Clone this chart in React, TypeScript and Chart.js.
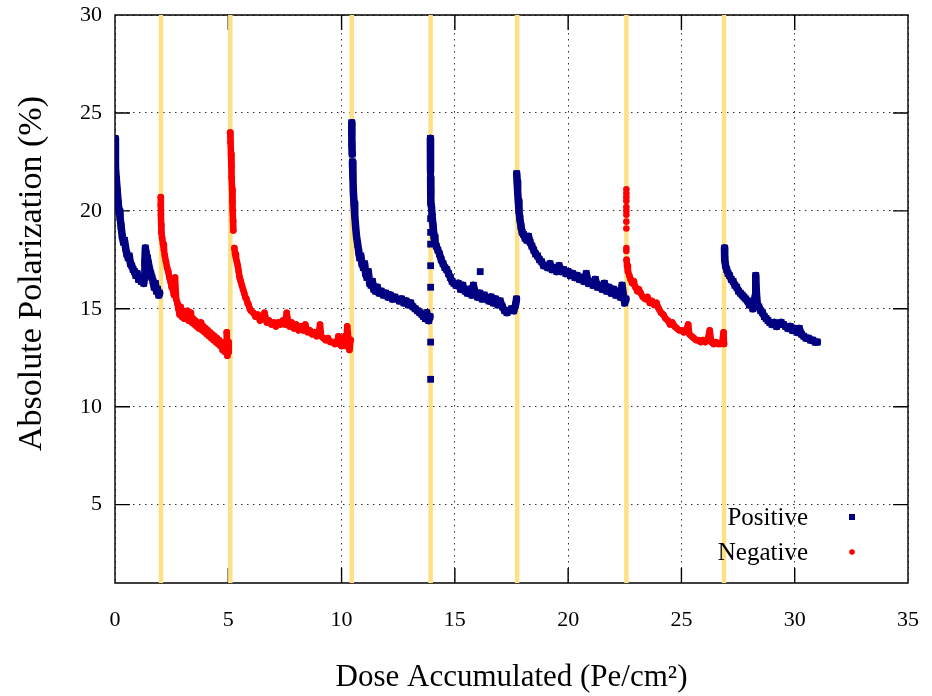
import React, { useEffect, useRef } from 'react';
import { Chart, registerables } from 'chart.js';

Chart.register(...registerables);

type Pt = [number, number];

// ---- axes / annotations ----
const xTickValues = [0, 5, 10, 15, 20, 25, 30, 35];
const yTickValues = [5, 10, 15, 20, 25, 30];
const polaritySwitches = [2.03, 5.09, 10.45, 13.93, 17.75, 22.57, 26.88];
const legendLabels = ['Positive', 'Negative'];

// ---- Positive polarity runs ----
const positiveRun1: Pt[] = [
  [0.0, 23.7], [0.01, 23.2], [0.02, 22.6], [0.03, 22.2], [0.06, 21.6], [0.1, 21.0], [0.14, 20.4],
  [0.18, 20.0], [0.22, 19.7], [0.27, 19.2], [0.32, 18.7], [0.37, 18.4], [0.42, 18.5], [0.47, 18.1],
  [0.52, 17.8], [0.58, 17.6], [0.63, 17.7], [0.68, 17.3], [0.74, 17.2], [0.8, 17.0], [0.86, 16.9],
  [0.92, 16.7], [0.98, 16.8], [1.04, 16.5], [1.1, 16.6], [1.16, 16.4], [1.22, 16.5], [1.27, 16.3],
  [1.3, 16.6], [1.32, 17.4], [1.34, 18.1], [1.38, 17.8], [1.43, 17.6], [1.48, 17.3], [1.53, 17.0],
  [1.58, 16.8], [1.63, 16.6], [1.68, 16.4], [1.73, 16.1], [1.78, 16.3], [1.83, 15.9], [1.88, 16.0],
  [1.93, 15.7], [1.97, 15.8],
];
const positiveRun2a: Pt[] = [[10.45, 24.5], [10.45, 24.0], [10.46, 23.4], [10.47, 22.9]];
const positiveRun2: Pt[] = [
  [10.48, 22.5], [10.5, 21.8], [10.52, 21.0], [10.55, 20.4], [10.58, 19.8], [10.62, 19.2],
  [10.66, 18.7], [10.71, 18.3], [10.76, 17.9], [10.8, 17.6], [10.85, 17.7], [10.9, 17.3],
  [10.96, 17.1], [11.02, 17.3], [11.06, 16.8], [11.12, 16.6], [11.18, 16.9], [11.24, 16.3],
  [11.3, 16.2], [11.36, 16.4], [11.42, 16.0], [11.5, 15.9], [11.58, 16.1], [11.66, 15.8],
  [11.75, 15.9], [11.85, 15.7], [11.95, 15.8], [12.05, 15.6], [12.15, 15.7], [12.25, 15.5],
  [12.35, 15.6], [12.45, 15.5], [12.55, 15.4], [12.65, 15.5], [12.75, 15.3], [12.85, 15.4],
  [12.95, 15.2], [13.05, 15.3], [13.15, 15.1], [13.25, 15.0], [13.35, 14.9], [13.45, 14.8],
  [13.55, 14.7], [13.62, 14.6], [13.7, 14.5], [13.76, 14.8], [13.8, 14.6], [13.85, 14.4], [13.9, 14.6],
];
const positiveRun3a: Pt[] = [[13.92, 23.7], [13.92, 23.2], [13.93, 22.6], [13.93, 22.0]];
const positiveRun3: Pt[] = [
  [13.93, 21.7], [13.94, 21.0], [13.94, 20.4], [13.97, 20.2], [14.0, 19.7], [14.04, 19.2],
  [14.08, 18.7], [14.12, 18.4], [14.18, 18.2], [14.25, 18.0], [14.32, 17.8], [14.4, 17.5],
  [14.48, 17.3], [14.56, 17.1], [14.64, 17.0], [14.72, 16.8], [14.8, 16.6], [14.88, 16.4],
  [14.96, 16.3], [15.05, 16.2], [15.15, 16.3], [15.25, 16.0], [15.35, 16.2], [15.45, 15.9],
  [15.55, 15.8], [15.65, 16.0], [15.75, 15.7], [15.82, 16.2], [15.9, 15.8], [16.0, 15.6],
  [16.1, 15.8], [16.2, 15.5], [16.3, 15.7], [16.4, 15.5], [16.5, 15.4], [16.6, 15.6],
  [16.7, 15.3], [16.8, 15.5], [16.9, 15.2], [17.0, 15.4], [17.1, 15.1], [17.2, 14.9],
  [17.3, 14.8], [17.4, 14.9], [17.5, 15.0], [17.6, 14.9], [17.68, 15.2], [17.72, 15.5],
];
const positiveStrays: Pt[] = [
  [13.93, 19.6], [13.93, 18.9], [13.93, 18.3], [13.93, 17.2], [13.93, 16.1], [13.93, 13.3],
  [13.93, 11.4], [16.12, 16.9],
];
const positiveRun4: Pt[] = [
  [17.73, 21.9], [17.75, 21.5], [17.77, 21.0], [17.8, 20.5], [17.83, 20.0], [17.87, 19.6],
  [17.92, 19.2], [17.97, 18.9], [18.03, 18.8], [18.1, 18.6], [18.18, 18.5], [18.25, 18.7],
  [18.32, 18.4], [18.4, 18.2], [18.48, 18.0], [18.56, 17.8], [18.65, 17.7], [18.74, 17.5],
  [18.83, 17.4], [18.92, 17.2], [19.0, 17.2], [19.1, 17.1], [19.2, 17.3], [19.3, 17.0],
  [19.4, 17.1], [19.5, 16.9], [19.6, 17.2], [19.7, 16.9], [19.8, 17.0], [19.9, 16.8],
  [20.0, 16.9], [20.1, 16.7], [20.2, 16.8], [20.3, 16.6], [20.4, 16.7], [20.5, 16.5],
  [20.6, 16.6], [20.7, 16.4], [20.8, 16.8], [20.9, 16.3], [21.0, 16.4], [21.1, 16.2],
  [21.2, 16.5], [21.3, 16.1], [21.4, 16.2], [21.5, 16.0], [21.6, 16.3], [21.7, 15.9],
  [21.8, 16.1], [21.9, 15.8], [22.0, 16.0], [22.1, 15.7], [22.2, 15.9], [22.3, 15.6],
  [22.38, 16.2], [22.45, 15.6], [22.5, 15.3], [22.55, 15.5],
];
const positiveRun5: Pt[] = [
  [26.9, 18.1], [26.9, 17.8], [26.92, 17.5], [26.95, 17.2], [27.0, 17.0], [27.06, 16.8],
  [27.12, 16.7], [27.2, 16.5], [27.28, 16.4], [27.36, 16.2], [27.44, 16.1], [27.52, 15.9],
  [27.6, 15.8], [27.68, 15.7], [27.76, 15.6], [27.84, 15.5], [27.92, 15.4], [28.0, 15.2],
  [28.08, 15.3], [28.15, 15.0], [28.2, 15.3], [28.25, 15.6], [28.28, 16.7], [28.31, 15.8],
  [28.35, 15.2], [28.42, 15.1], [28.5, 14.9], [28.58, 14.8], [28.66, 14.6], [28.74, 14.5],
  [28.82, 14.4], [28.9, 14.3], [29.0, 14.2], [29.1, 14.3], [29.2, 14.1], [29.3, 14.2],
  [29.4, 14.3], [29.5, 14.2], [29.6, 14.1], [29.7, 14.0], [29.8, 14.1], [29.9, 13.9],
  [30.0, 14.0], [30.1, 13.8], [30.2, 14.0], [30.3, 13.7], [30.4, 13.6], [30.5, 13.5],
  [30.6, 13.5], [30.7, 13.4], [30.8, 13.4], [30.9, 13.3], [31.0, 13.3],
];

// ---- Negative polarity runs ----
const negativeRun1: Pt[] = [
  [2.02, 20.7], [2.02, 20.3], [2.03, 19.8], [2.04, 19.3], [2.05, 18.9], [2.08, 18.6], [2.12, 18.3],
  [2.16, 18.0], [2.2, 17.7], [2.25, 17.4], [2.3, 17.1], [2.35, 16.9], [2.4, 16.6], [2.45, 16.4],
  [2.5, 16.1], [2.55, 16.0], [2.6, 15.7], [2.65, 16.6], [2.7, 15.5], [2.75, 15.3], [2.8, 15.0],
  [2.85, 14.7], [2.9, 15.1], [2.95, 14.6], [3.0, 14.9], [3.05, 14.5], [3.1, 14.8], [3.15, 14.6],
  [3.2, 14.9], [3.25, 14.4], [3.3, 14.6], [3.35, 14.8], [3.4, 14.3], [3.45, 14.5], [3.5, 14.2],
  [3.55, 14.4], [3.6, 14.1], [3.65, 14.3], [3.7, 14.0], [3.75, 14.2], [3.8, 14.3], [3.85, 13.9],
  [3.9, 14.1], [3.95, 13.8], [4.0, 14.0], [4.05, 13.7], [4.1, 13.9], [4.15, 13.6], [4.2, 13.8],
  [4.25, 13.5], [4.3, 13.7], [4.35, 13.4], [4.4, 13.6], [4.45, 13.3], [4.5, 13.5], [4.55, 13.2],
  [4.6, 13.4], [4.65, 13.1], [4.7, 13.3], [4.75, 12.9], [4.8, 13.1], [4.85, 12.8], [4.9, 13.0],
  [4.93, 13.8], [4.96, 12.6], [5.0, 13.3], [5.02, 12.8],
];
const negativeRun2a: Pt[] = [
  [5.08, 24.0], [5.1, 23.5], [5.12, 22.9], [5.14, 22.3], [5.15, 21.7], [5.17, 21.1], [5.18, 20.5],
  [5.2, 20.0], [5.21, 19.5], [5.22, 19.0],
];
const negativeRun2: Pt[] = [
  [5.27, 18.1], [5.3, 17.8], [5.34, 17.6], [5.38, 17.4], [5.42, 17.2], [5.46, 16.9], [5.5, 16.6],
  [5.55, 16.4], [5.6, 16.2], [5.65, 16.0], [5.7, 15.8], [5.75, 15.6], [5.8, 15.5], [5.85, 15.3],
  [5.9, 15.2], [5.95, 15.0], [6.0, 14.9], [6.1, 14.8], [6.2, 14.6], [6.3, 14.7], [6.4, 14.4],
  [6.5, 14.5], [6.6, 14.8], [6.7, 14.3], [6.8, 14.4], [6.9, 14.2], [7.0, 14.3], [7.1, 14.1],
  [7.2, 14.3], [7.3, 14.2], [7.4, 14.4], [7.5, 14.2], [7.58, 14.8], [7.65, 14.3], [7.7, 14.1],
  [7.8, 14.3], [7.9, 14.0], [8.0, 14.2], [8.1, 13.9], [8.2, 14.1], [8.3, 13.9], [8.4, 14.2],
  [8.5, 13.8], [8.6, 13.9], [8.7, 13.7], [8.8, 13.8], [8.9, 13.6], [9.0, 13.8], [9.05, 14.2],
  [9.1, 13.6], [9.2, 13.5], [9.3, 13.4], [9.4, 13.5], [9.5, 13.3], [9.6, 13.3], [9.7, 13.2],
  [9.8, 13.3], [9.86, 13.6], [9.9, 13.2], [10.0, 13.1], [10.1, 13.2], [10.15, 13.6], [10.2, 13.1],
  [10.25, 14.1], [10.3, 13.5], [10.35, 12.9], [10.4, 13.4],
];
const negativeStrays: Pt[] = [
  [22.57, 21.1], [22.57, 20.9], [22.57, 20.7], [22.57, 20.5], [22.57, 20.2], [22.57, 20.0],
  [22.57, 19.8], [22.57, 19.45], [22.57, 19.1], [22.57, 18.1], [22.57, 17.95],
];
const negativeRun3: Pt[] = [
  [22.58, 17.5], [22.6, 17.2], [22.64, 16.9], [22.7, 16.7], [22.76, 16.5], [22.83, 16.3],
  [22.9, 16.4], [22.97, 16.1], [23.05, 15.9], [23.12, 16.0], [23.2, 15.8], [23.3, 15.6],
  [23.4, 15.5], [23.5, 15.6], [23.6, 15.3], [23.7, 15.4], [23.8, 15.2], [23.9, 15.3],
  [24.0, 15.0], [24.1, 14.8], [24.2, 14.7], [24.3, 14.5], [24.4, 14.4], [24.5, 14.2],
  [24.6, 14.3], [24.7, 14.1], [24.8, 14.0], [24.9, 13.9], [25.0, 13.9], [25.1, 13.8],
  [25.2, 13.9], [25.3, 14.2], [25.35, 13.7], [25.45, 13.6], [25.55, 13.5], [25.65, 13.4],
  [25.75, 13.4], [25.85, 13.3], [25.95, 13.4], [26.05, 13.3], [26.15, 13.4], [26.25, 13.9],
  [26.32, 13.3], [26.42, 13.2], [26.52, 13.3], [26.62, 13.2], [26.72, 13.2], [26.8, 13.3],
  [26.86, 13.8], [26.88, 13.2],
];

// ---- styles ----
const NAVY = '#000080';
const RED = '#ff0000';
const YELLOW = '#ffe185';
const FONT = '"Liberation Serif", "Times New Roman", serif';

const toXY = (pts: Pt[]) => pts.map(([x, y]) => ({ x, y }));

function seriesDataset(pts: Pt[], positive: boolean, line: boolean) {
  const color = positive ? NAVY : RED;
  return {
    label: positive ? legendLabels[0] : legendLabels[1],
    data: toXY(pts),
    showLine: line,
    borderColor: color,
    backgroundColor: color,
    borderWidth: positive ? 7.5 : 6.5,
    borderJoinStyle: 'round' as const,
    borderCapStyle: 'round' as const,
    pointStyle: positive ? 'rect' : 'circle',
    pointRadius: positive ? 4.8 : 3.3,
    pointBorderWidth: 0,
    pointBackgroundColor: color,
    tension: 0,
  };
}

const framePlugin = {
  id: 'gnuFrame',
  beforeDatasetsDraw(chart: any) {
    const { ctx, chartArea: a, scales } = chart;
    const xs = scales.x;
    const ys = scales.y;
    const T = 15;
    ctx.save();
    ctx.strokeStyle = '#000';
    ctx.lineWidth = 1.4;
    ctx.beginPath();
    ctx.rect(a.left, a.top, a.right - a.left, a.bottom - a.top);
    for (const v of xTickValues) {
      const p = xs.getPixelForValue(v);
      ctx.moveTo(p, a.bottom);
      ctx.lineTo(p, a.bottom - T);
      ctx.moveTo(p, a.top);
      ctx.lineTo(p, a.top + T);
    }
    for (const v of yTickValues) {
      const p = ys.getPixelForValue(v);
      ctx.moveTo(a.left, p);
      ctx.lineTo(a.left + T, p);
      ctx.moveTo(a.right, p);
      ctx.lineTo(a.right - T, p);
    }
    ctx.stroke();
    ctx.restore();
  },
  afterDatasetsDraw(chart: any) {
    const { ctx, chartArea: a } = chart;
    ctx.save();
    ctx.font = `25px ${FONT}`;
    ctx.textAlign = 'right';
    ctx.textBaseline = 'middle';
    const textRight = a.right - 100;
    const markX = a.right - 56;
    const rows = [a.bottom - 65, a.bottom - 30];
    legendLabels.forEach((lab, i) => {
      const yy = rows[i];
      ctx.fillStyle = '#000';
      ctx.fillText(lab, textRight, yy);
      if (i === 0) {
        ctx.fillStyle = NAVY;
        ctx.fillRect(markX - 3, yy - 4, 6, 6);
      } else {
        ctx.fillStyle = RED;
        ctx.beginPath();
        ctx.arc(markX, yy - 1, 2.8, 0, Math.PI * 2);
        ctx.fill();
      }
    });
    ctx.restore();
  },
};

export default function App() {
  const canvasRef = useRef<HTMLCanvasElement | null>(null);

  useEffect(() => {
    const canvas = canvasRef.current;
    if (!canvas) return;

    const datasets: any[] = [
      seriesDataset(positiveRun1, true, true),
      seriesDataset(positiveRun2a, true, true),
      seriesDataset(positiveRun2, true, true),
      seriesDataset(positiveRun3a, true, true),
      seriesDataset(positiveRun3, true, true),
      seriesDataset(positiveStrays, true, false),
      seriesDataset(positiveRun4, true, true),
      seriesDataset(positiveRun5, true, true),
      seriesDataset(negativeRun1, false, true),
      seriesDataset(negativeRun2a, false, true),
      seriesDataset(negativeRun2, false, true),
      seriesDataset(negativeStrays, false, false),
      seriesDataset(negativeRun3, false, true),
      ...polaritySwitches.map((d) => ({
        label: 'switch',
        data: [{ x: d, y: 1 }, { x: d, y: 30 }],
        showLine: true,
        borderColor: YELLOW,
        backgroundColor: YELLOW,
        borderWidth: 4.5,
        borderCapStyle: 'square' as const,
        pointRadius: 0,
      })),
    ];

    const chart = new Chart(canvas, {
      type: 'scatter',
      data: { datasets },
      options: {
        animation: false,
        responsive: false,
        events: [],
        layout: { autoPadding: false, padding: { left: 0, top: 15, right: 24, bottom: 0 } },
        plugins: { legend: { display: false }, tooltip: { enabled: false } },
        scales: {
          x: {
            type: 'linear',
            min: 0,
            max: 35,
            afterBuildTicks: (axis: any) => {
              axis.ticks = xTickValues.map((v) => ({ value: v }));
            },
            afterFit: (scale: any) => {
              scale.height = 113;
              scale.paddingLeft = 0;
              scale.paddingRight = 0;
            },
            grid: { color: 'rgba(0,0,0,0.8)', lineWidth: 1, drawTicks: false },
            border: { display: false, dash: [1.5, 4.5] },
            ticks: { color: '#000', padding: 24, font: { family: FONT, size: 22 }, maxRotation: 0 },
            title: {
              display: true,
              text: 'Dose Accumulated (Pe/cm²)',
              color: '#000',
              font: { family: FONT, size: 31 },
              padding: { top: 0, bottom: 0 },
            },
          },
          y: {
            type: 'linear',
            min: 1,
            max: 30,
            afterBuildTicks: (axis: any) => {
              axis.ticks = yTickValues.map((v) => ({ value: v }));
            },
            afterFit: (scale: any) => {
              scale.width = 115;
              scale.paddingTop = 0;
              scale.paddingBottom = 0;
            },
            grid: { color: 'rgba(0,0,0,0.8)', lineWidth: 1, drawTicks: false },
            border: { display: false, dash: [1.5, 4.5] },
            ticks: { color: '#000', padding: 13, font: { family: FONT, size: 22 } },
            title: {
              display: true,
              text: '      Absolute Polarization (%)',
              color: '#000',
              font: { family: FONT, size: 34 },
              padding: { top: 12, bottom: 0 },
            },
          },
        },
      },
      plugins: [framePlugin],
    });

    return () => chart.destroy();
  }, []);

  return (
    <div style={{ position: 'absolute', left: 0, top: 0, width: 932, height: 696, background: '#fff' }}>
      <canvas ref={canvasRef} width={932} height={696} style={{ display: 'block' }} />
    </div>
  );
}
